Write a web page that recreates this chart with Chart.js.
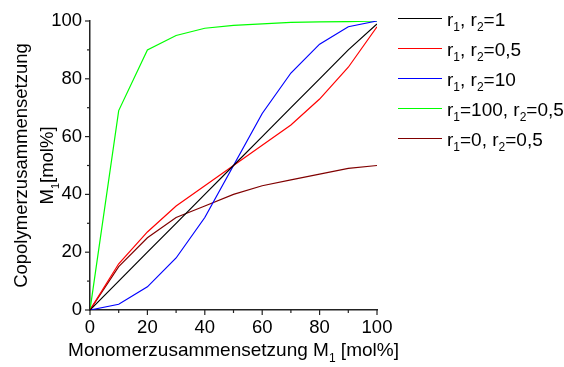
<!DOCTYPE html>
<html>
<head>
<meta charset="utf-8">
<script src="https://cdn.jsdelivr.net/npm/chart.js@4/dist/chart.umd.min.js"></script>
<style>
  html, body { margin: 0; padding: 0; background: #fff; }
  #wrap { width: 564px; height: 367px; }
</style>
</head>
<body>
<div id="wrap"><canvas id="grafica" width="564" height="367"></canvas></div>
<script>
// monomer composition f1 [mol%]
const monomer = [0, 10, 20, 30, 40, 50, 60, 70, 80, 90, 100];

// copolymer composition F1 [mol%]
const r1r2_1 = [0, 10, 20, 30, 40, 50, 60, 70, 80, 90, 99];
const r1r2_05 = [0, 16, 27, 36, 43, 50, 57, 64, 73, 84, 98];
const r1r2_10 = [0, 2, 8, 18, 32, 50, 68, 82, 92, 98, 100];
const r1_100_r2_05 = [0, 69, 90, 95, 97.5, 98.5, 99, 99.5, 99.7, 99.8, 100];
const r1_0_r2_05 = [0, 15, 25, 32, 36, 40, 43, 45, 47, 49, 50];

const etiquetas = ['r₁, r₂=1', 'r₁, r₂=0,5', 'r₁, r₂=10', 'r₁=100, r₂=0,5', 'r₁=0, r₂=0,5'];
const colores = ['#000000', '#ff0000', '#0000ff', '#00ff00', '#800000'];
const series = [r1r2_1, r1r2_05, r1r2_10, r1_100_r2_05, r1_0_r2_05];

const tituloX = 'Monomerzusammensetzung M₁ [mol%]';
const tituloY1 = 'Copolymerzusammensetzung';
const tituloY2 = 'M₁[mol%]';

const FUENTE = '"Liberation Sans", Arial, sans-serif';
const subs = { '₀': '0', '₁': '1', '₂': '2' };

function anchoTexto(ctx, texto, size) {
  let w = 0;
  for (const ch of texto) {
    if (subs[ch]) {
      ctx.font = Math.round(size * 0.62) + 'px ' + FUENTE;
      w += ctx.measureText(subs[ch]).width;
    } else {
      ctx.font = size + 'px ' + FUENTE;
      w += ctx.measureText(ch).width;
    }
  }
  return w;
}

// draws text with subscript digits, left aligned at x, baseline y
function textoSub(ctx, texto, x, y, size) {
  ctx.textAlign = 'left';
  ctx.textBaseline = 'alphabetic';
  ctx.fillStyle = '#000';
  for (const ch of texto) {
    if (subs[ch]) {
      ctx.font = Math.round(size * 0.62) + 'px ' + FUENTE;
      ctx.fillText(subs[ch], x, y + size * 0.3);
      x += ctx.measureText(subs[ch]).width;
    } else {
      ctx.font = size + 'px ' + FUENTE;
      ctx.fillText(ch, x, y);
      x += ctx.measureText(ch).width;
    }
  }
}

const extras = {
  id: 'extras',
  afterDraw(chart) {
    const ctx = chart.ctx;
    const xs = chart.scales.x;
    const ys = chart.scales.y;
    const area = chart.chartArea;
    ctx.save();

    // tick marks, major every 20, minor every 10
    ctx.strokeStyle = '#222';
    ctx.lineWidth = 1.2;
    for (let v = 0; v <= 100; v += 10) {
      const largo = v % 20 === 0 ? 5 : 3;
      const px = xs.getPixelForValue(v);
      ctx.beginPath();
      ctx.moveTo(px, area.bottom);
      ctx.lineTo(px, area.bottom + largo);
      ctx.stroke();
      const py = ys.getPixelForValue(v);
      ctx.beginPath();
      ctx.moveTo(area.left, py);
      ctx.lineTo(area.left - largo, py);
      ctx.stroke();
    }

    // x title
    const cx = (area.left + area.right) / 2;
    const wx = anchoTexto(ctx, tituloX, 19);
    textoSub(ctx, tituloX, cx - wx / 2, 356, 19);

    // y title, two rotated lines
    const cy = (area.top + area.bottom) / 2;
    ctx.save();
    ctx.translate(27, cy);
    ctx.rotate(-Math.PI / 2);
    textoSub(ctx, tituloY1, -anchoTexto(ctx, tituloY1, 18.5) / 2, 0, 18.5);
    ctx.restore();
    ctx.save();
    ctx.translate(53, cy);
    ctx.rotate(-Math.PI / 2);
    textoSub(ctx, tituloY2, -anchoTexto(ctx, tituloY2, 18.5) / 2, 0, 18.5);
    ctx.restore();

    // legend
    etiquetas.forEach((et, i) => {
      const y = 18.5 + i * 30;
      ctx.strokeStyle = colores[i];
      ctx.lineWidth = 1.2;
      ctx.beginPath();
      ctx.moveTo(398, y);
      ctx.lineTo(442, y);
      ctx.stroke();
      textoSub(ctx, et, 447, y + 7, 19);
    });

    ctx.restore();
  }
};

const datasets = series.map((s, i) => ({
  label: etiquetas[i],
  data: monomer.map((m, j) => ({ x: m, y: s[j] })),
  borderColor: colores[i],
  backgroundColor: colores[i],
  borderWidth: 1.2,
  pointRadius: 0,
  tension: 0,
  fill: false
}));

new Chart(document.getElementById('grafica').getContext('2d'), {
  type: 'line',
  data: { datasets: datasets },
  options: {
    responsive: false,
    animation: false,
    devicePixelRatio: 1,
    layout: { padding: { left: 0, top: 21, right: 187, bottom: 0 } },
    plugins: {
      legend: { display: false },
      tooltip: { enabled: false },
      title: { display: false }
    },
    scales: {
      x: {
        type: 'linear',
        min: 0,
        max: 100,
        grid: { display: false, drawTicks: false },
        border: { display: true, color: '#222', width: 1.5 },
        ticks: {
          stepSize: 20,
          padding: 7,
          maxRotation: 0,
          color: '#000',
          font: { family: FUENTE, size: 18.5 }
        },
        afterFit(scale) { scale.height = 57; }
      },
      y: {
        min: 0,
        max: 100,
        grid: { display: false, drawTicks: false },
        border: { display: true, color: '#222', width: 1.5 },
        ticks: {
          stepSize: 20,
          padding: 8,
          color: '#000',
          font: { family: FUENTE, size: 18.5 }
        },
        afterFit(scale) { scale.width = 90; }
      }
    }
  },
  plugins: [extras]
});
</script>
</body>
</html>
